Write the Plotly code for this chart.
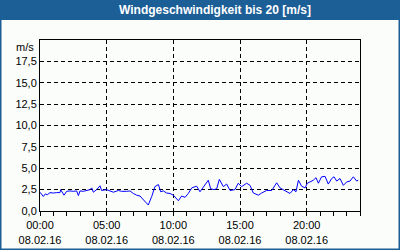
import plotly.graph_objects as go
import pandas as pd

# ---- data ----
hours = [0.00, 0.25, 0.40, 0.55, 0.75, 1.00, 1.25, 1.50, 1.55, 1.80, 2.00, 2.25, 2.50, 2.75, 2.88,
         3.00, 3.25, 3.50, 3.75, 3.88, 4.00, 4.25, 4.50, 4.62, 4.80, 5.00, 5.25, 5.50, 5.88, 6.12,
         6.50, 6.75, 7.00, 7.25, 7.50, 7.75, 8.12, 8.38, 8.62, 8.88, 9.05, 9.25, 9.50, 9.75, 10.00,
         10.38, 10.62, 10.88, 11.12, 11.38, 11.75, 12.00, 12.38, 12.62, 12.80, 13.05, 13.25, 13.45,
         13.75, 14.00, 14.25, 14.62, 14.87, 15.12, 15.50, 15.75, 16.00, 16.38, 16.62, 17.00, 17.38,
         17.75, 18.00, 18.38, 18.75, 19.00, 19.20, 19.38, 19.62, 19.88, 20.05, 20.25, 20.50, 20.70,
         20.88, 21.12, 21.38, 21.62, 21.88, 22.05, 22.25, 22.50, 22.75, 23.00, 23.25, 23.50, 23.75, 23.87]
speed = [2.2, 1.7, 2.0, 1.9, 2.15, 2.1, 2.15, 2.15, 2.5, 1.85, 2.3, 2.35, 2.3, 2.35, 1.8,
         2.35, 2.3, 2.4, 2.5, 2.7, 2.2, 2.5, 2.95, 2.4, 2.45, 2.5, 2.35, 2.2, 2.4, 2.3,
         2.3, 2.35, 2.05, 1.85, 1.75, 1.3, 0.7, 1.7, 2.85, 3.1, 2.25, 2.35, 2.1, 2.05, 1.85,
         1.2, 1.75, 1.6, 2.05, 2.7, 2.9, 2.25, 3.0, 3.6, 2.6, 2.5, 2.6, 3.7,
         2.85, 3.15, 2.4, 2.5, 3.25, 2.85, 3.25, 3.0, 2.1, 1.85, 2.1, 2.4, 2.4,
         3.3, 2.7, 2.35, 2.05, 2.5, 2.25, 3.6, 2.9, 2.7, 3.25, 3.4, 3.6, 3.9,
         3.25, 4.0, 4.05, 3.15, 3.8, 4.0, 3.5, 3.8, 3.0, 3.4, 3.5, 4.0, 3.5, 3.6]
x_tick_times = ["00:00", "05:00", "10:00", "15:00", "20:00"]
x_tick_date = "08.02.16"
y_ticks = [0, 2.5, 5, 7.5, 10, 12.5, 15, 17.5]
y_tick_labels = ["0,0", "2,5", "5,0", "7,5", "10,0", "12,5", "15,0", "17,5"]
title_text = "Windgeschwindigkeit bis 20 [m/s]"
unit_text = "m/s"

day = pd.Timestamp("2016-02-08")
times = [day + pd.Timedelta(hours=h) for h in hours]
tickvals = [day + pd.Timedelta(t + ":00") for t in x_tick_times]
ticktext = [f"{t}<br>{x_tick_date}" for t in x_tick_times]
minor_vals = list(pd.date_range(day, day + pd.Timedelta(hours=24), freq="1h"))

W, H = 400, 250
L, R, T, B = 40, 40, 40, 39
BG = "#FBFDFB"
BLUE = "#1C5E96"
FONT = "Liberation Sans, Arial, sans-serif"

def px_x(px):
    return (px - L) / (W - L - R)

def px_y(py):
    return (H - B - py) / (H - T - B)

fig = go.Figure()
fig.add_trace(go.Scatter(x=times, y=speed, mode="lines",
                         line=dict(color="#0000FF", width=1), hoverinfo="skip"))

fig.update_layout(
    width=W, height=H,
    margin=dict(l=L, r=R, t=T, b=B, pad=0, autoexpand=False),
    paper_bgcolor=BG, plot_bgcolor=BG,
    showlegend=False,
    font=dict(family=FONT, size=11, color="black"),
    xaxis=dict(
        type="date", automargin=False,
        range=[day, day + pd.Timedelta(hours=24)],
        tickmode="array", tickvals=tickvals, ticktext=ticktext,
        ticks="outside", ticklen=4, tickcolor="black", tickwidth=1,
        showgrid=True, gridcolor="black", gridwidth=1, griddash="4px,3px",
        showline=True, linecolor="black", linewidth=1, mirror=True,
        zeroline=False,
        minor=dict(tickmode="array", tickvals=minor_vals, ticks="outside", ticklen=4,
                   tickcolor="black", tickwidth=1, showgrid=False),
        tickfont=dict(family=FONT, size=11, color="black"),
    ),
    yaxis=dict(
        range=[0, 20], automargin=False,
        tickmode="array", tickvals=y_ticks, ticktext=y_tick_labels,
        ticks="", showgrid=True, gridcolor="black", gridwidth=1, griddash="4px,3px",
        showline=True, linecolor="black", linewidth=1, mirror=True,
        zeroline=False,
        tickfont=dict(family=FONT, size=11, color="black"),
    ),
    shapes=[
        dict(type="rect", xref="paper", yref="paper",
             x0=px_x(0), x1=px_x(W), y0=px_y(20), y1=px_y(0),
             fillcolor=BLUE, line=dict(width=0), layer="below"),
        dict(type="rect", xref="paper", yref="paper",
             x0=px_x(0.75), x1=px_x(W - 0.75), y0=px_y(H - 0.75), y1=px_y(0.75),
             fillcolor="rgba(0,0,0,0)", line=dict(color=BLUE, width=1.5)),
    ],
    annotations=[
        dict(text=f"<b>{title_text}</b>", xref="paper", yref="paper",
             x=px_x(215), y=px_y(10), xanchor="center", yanchor="middle",
             showarrow=False, font=dict(family=FONT, size=12, color="white")),
        dict(text=unit_text, xref="paper", yref="paper",
             x=px_x(36), y=px_y(47), xanchor="right", yanchor="middle",
             showarrow=False, font=dict(family=FONT, size=11, color="black")),
    ],
)

fig.write_html("out.html")
